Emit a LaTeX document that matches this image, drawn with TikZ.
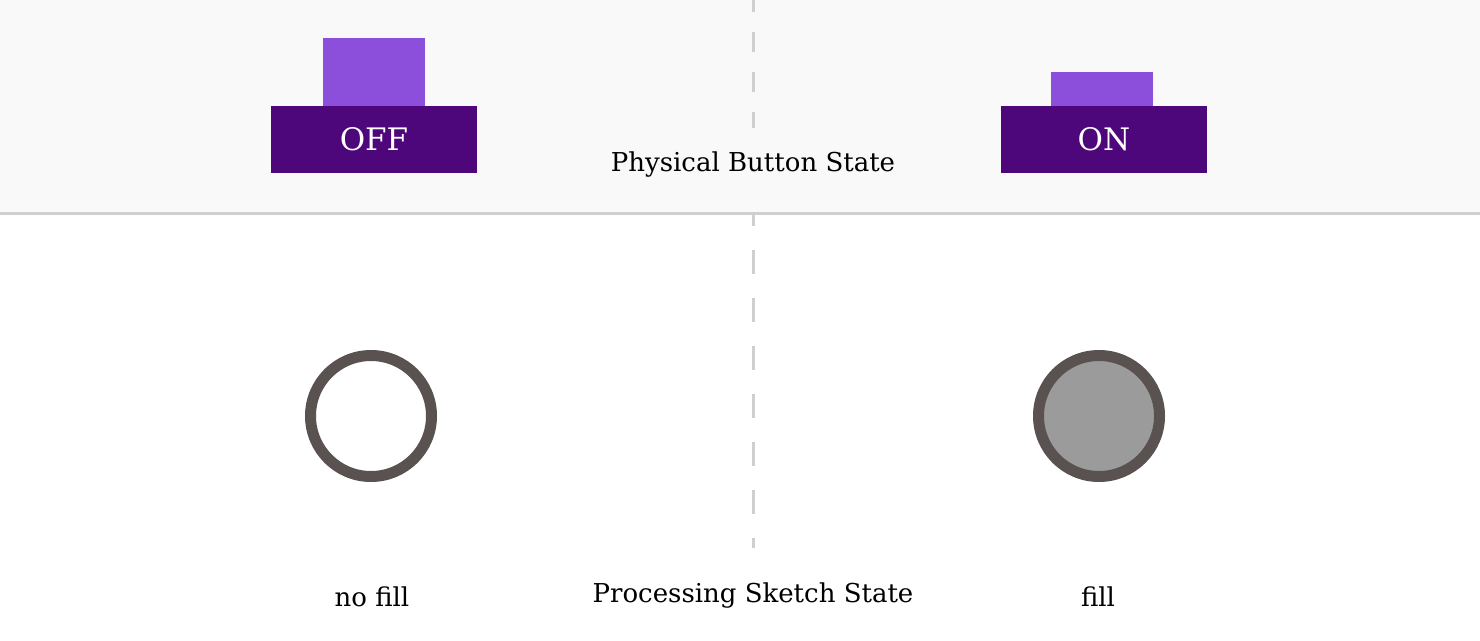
\documentclass[tikz,border=0pt]{standalone}
\usepackage{fontspec}
\setmainfont{DejaVu Serif}
\definecolor{band}{HTML}{F9F9F9}
\definecolor{rule}{HTML}{CFCFCF}
\definecolor{capc}{HTML}{8B4FDB}
\definecolor{basec}{HTML}{4E067B}
\definecolor{ringc}{HTML}{5A5250}
\definecolor{fillc}{HTML}{9B9B9B}
\tikzset{
  basebox/.style={fill=basec, draw=none, minimum width=206pt, minimum height=67pt, inner sep=0pt, text=white, font=\fontsize{31}{31}\selectfont},
  capbox/.style={fill=capc, draw=none, minimum width=102pt, inner sep=0pt},
  ring/.style={circle, draw=ringc, line width=11pt, minimum size=121pt, inner sep=0pt},
  lbl/.style={font=\fontsize{26}{26}\selectfont, inner sep=0pt},
  divider/.style={rule, line width=3pt}
}
\begin{document}
\begin{tikzpicture}[x=1pt,y=-1pt]
\useasboundingbox (0,0) rectangle (1480,640);
\fill[white] (0,0) rectangle (1480,640);
\fill[band] (0,0) rectangle (1480,212);
\draw[divider] (0,213) -- (1480,213);
\coordinate (dtop) at (753,0);
\coordinate (dtopend) at (753,128);
\coordinate (dmid) at (753,213);
\coordinate (dbot) at (753,548);
\draw[divider, dash pattern=on 20pt off 20pt, dash phase=8pt] (dtop) -- (dtopend);
\draw[divider, dash pattern=on 24pt off 24pt, dash phase=11pt] (dmid) -- (dbot);
% OFF button
\node[capbox, minimum height=68pt] (offcap) at (374,72) {};
\node[basebox] (offbase) at (374,139.5) {OFF};
% ON button
\node[capbox, minimum height=34pt] (oncap) at (1102,89) {};
\node[basebox] (onbase) at (1104,139.5) {ON};
\node[lbl] (phys) at (753,165) {Physical Button State};
% circles
\node[ring, fill=white] (c1) at (371,416) {};
\node[ring, fill=fillc] (c2) at (1099,416) {};
\node[lbl] (nofill) at (372,597) {no fill};
\node[lbl] (proc) at (753,596) {Processing Sketch State};
\node[lbl] (fill) at (1098,597) {fill};
\end{tikzpicture}
\end{document}
